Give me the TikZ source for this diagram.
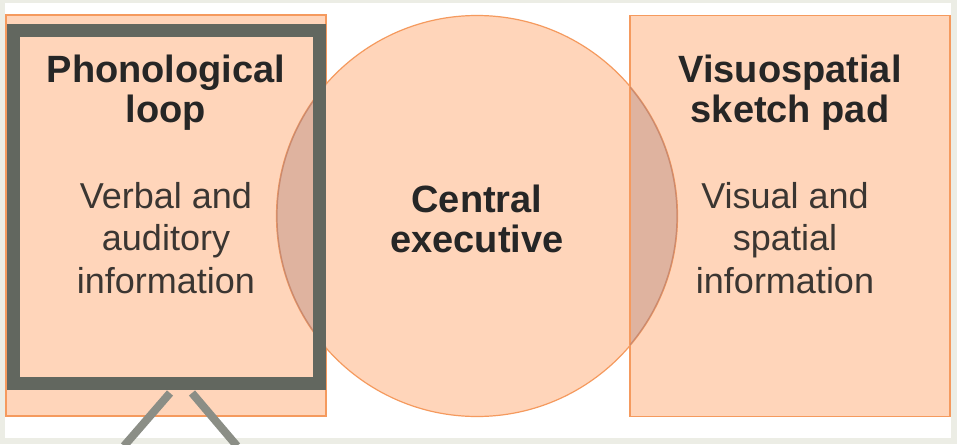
\documentclass[tikz,border=0pt]{standalone}
\usepackage{fontspec}
\setmainfont{Liberation Sans}
\usepackage{xcolor}
\usepackage{tikz}
\usetikzlibrary{positioning}

\definecolor{peach}{HTML}{FFD5BA}
\definecolor{peachline}{HTML}{F59A5E}
\definecolor{lens}{HTML}{DFB39F}
\definecolor{lensline}{HTML}{C98A70}
\definecolor{framegrey}{HTML}{62675F}
\definecolor{leggrey}{HTML}{8B8E86}
\definecolor{band}{HTML}{ECEDE5}
\definecolor{inkdark}{HTML}{262626}
\definecolor{inksoft}{HTML}{3B3632}

\begin{document}
\begin{tikzpicture}[
			x=1pt, y=-1pt,
			every node/.style={inner sep=0pt, outer sep=0pt},
			panel/.style={
				rectangle, fill=peach, draw=peachline, line width=1.2pt,
				minimum width=320pt, minimum height=401pt
			},
			hub/.style={
				circle, fill=peach, draw=peachline, line width=1.2pt,
				minimum size=401pt
			},
			title/.style={
				align=center, text=inkdark, anchor=base,
				font=\fontsize{38}{40}\selectfont\bfseries
			},
			body/.style={
				align=center, text=inksoft, anchor=base,
				font=\fontsize{36}{42.5}\selectfont
			},
			loopframe/.style={
				rectangle, draw=framegrey, line width=13pt,
				minimum width=306pt, minimum height=352.5pt
			},
			leg/.style={
				draw=leggrey, line width=8pt
			}
			]
			
			% background and edge bands
			\fill[white] (0,0) rectangle (957,444);
			\fill[band] (0,0) rectangle (957,3);
			\fill[band] (0,438) rectangle (957,444);
			\fill[band] (0,3) rectangle (5,438);
			\fill[band] (951,3) rectangle (957,438);
			\useasboundingbox (0,0) rectangle (957,444);
			
			% the three components
			\node[panel] (phono) at (166,215.5) {};
			\node[panel] (visuo) at (790,216) {};
			\node[hub] (central) at (477,216) {};
			
			% overlaps
			\begin{scope}
				\clip (central.center) circle (200);
				\fill[lens] (phono.south west) rectangle (phono.north east);
				\fill[lens] (visuo.south west) rectangle (visuo.north east);
				\draw[peachline, line width=1.2pt] (visuo.north west) -- (visuo.south west);
			\end{scope}
			\begin{scope}
				\clip (phono.south west) rectangle (phono.north east)
				      (visuo.south west) rectangle (visuo.north east);
				\draw[lensline, line width=1.2pt] (central.center) circle (200);
			\end{scope}
			
			% frame on the phonological loop
			\node[loopframe] (phonoframe) at (166.5,206.75) {};
			\coordinate (legLtop) at (170,393);
			\coordinate (legLfoot) at (124,446);
			\coordinate (legRtop) at (192,393);
			\coordinate (legRfoot) at (237,446);
			\draw[leg] (legLtop) -- (legLfoot);
			\draw[leg] (legRtop) -- (legRfoot);
			
			% labels (base = last line)
			\node[title] (phonotitle) at (166,122) {Phonological\\loop};
			\node[body] (phonobody) at (166,293) {Verbal and\\auditory\\information};
			\node[title] (centraltitle) at (477,252) {Central\\executive};
			\node[title] (visuotitle) at (790,122) {Visuospatial\\sketch pad};
			\node[body] (visuobody) at (785,293) {Visual and\\spatial\\information};
			
		\end{tikzpicture}
\end{document}
